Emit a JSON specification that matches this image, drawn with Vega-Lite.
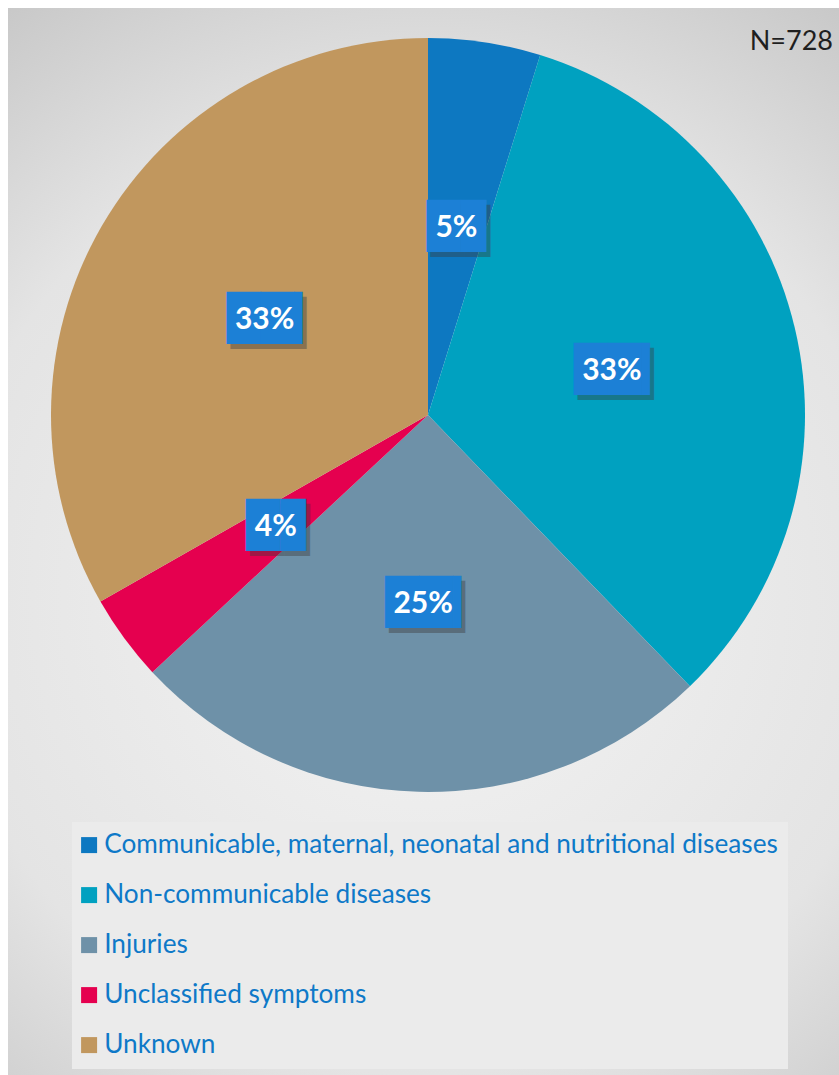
{
  "$schema": "https://vega.github.io/schema/vega-lite/v6.json",
  "width": 831,
  "height": 1067,
  "autosize": {"type": "none"},
  "padding": {"left": 8, "top": 8, "right": 0, "bottom": 0},
  "background": "#ffffff",
  "view": {
    "stroke": null,
    "fill": {
      "gradient": "radial",
      "x1": 0.5, "y1": 0.55, "r1": 0,
      "x2": 0.5, "y2": 0.55, "r2": 0.75,
      "stops": [
        {"offset": 0, "color": "#f4f4f4"},
        {"offset": 0.6, "color": "#e4e4e4"},
        {"offset": 1, "color": "#bfbfbf"}
      ]
    }
  },
  "title": {
    "text": "N=728",
    "anchor": "end",
    "orient": "top",
    "frame": "group",
    "font": "Lato",
    "fontSize": 27,
    "fontWeight": "normal",
    "color": "#1f1f1f",
    "offset": 0,
    "baseline": "alphabetic",
    "dy": 69,
    "dx": -6
  },
  "data": {
    "values": [
      {"cause": "Communicable, maternal, neonatal and nutritional diseases", "rank": 1, "count": 35, "label": "5%"},
      {"cause": "Non-communicable diseases", "rank": 2, "count": 240, "label": "33%"},
      {"cause": "Injuries", "rank": 3, "count": 184, "label": "25%"},
      {"cause": "Unclassified symptoms", "rank": 4, "count": 27, "label": "4%"},
      {"cause": "Unknown", "rank": 5, "count": 242, "label": "33%"}
    ]
  },
  "encoding": {
    "theta": {"field": "count", "type": "quantitative", "stack": true},
    "order": {"field": "rank", "type": "quantitative"},
    "detail": {"field": "cause", "type": "nominal"}
  },
  "layer": [
    {
      "mark": {"type": "arc", "x": 420, "y": 407, "outerRadius": 377, "strokeWidth": 0},
      "encoding": {
        "color": {
          "field": "cause",
          "type": "nominal",
          "scale": {
            "domain": [
              "Communicable, maternal, neonatal and nutritional diseases",
              "Non-communicable diseases",
              "Injuries",
              "Unclassified symptoms",
              "Unknown"
            ],
            "range": ["#0d78c1", "#00a1c0", "#6e91a8", "#e5004f", "#c1975e"]
          },
          "legend": {
            "orient": "none",
            "legendX": 64,
            "legendY": 814,
            "title": null,
            "direction": "vertical",
            "symbolType": "square",
            "symbolSize": 256,
            "symbolStrokeWidth": 0,
            "symbolOffset": -6,
            "labelFont": "Lato",
            "labelFontSize": 26.2,
            "labelColor": "#0e79c8",
            "labelLimit": 1000,
            "labelOffset": 2,
            "rowPadding": 23,
            "padding": 10,
            "fillColor": "#ebebeb"
          }
        }
      }
    },
    {
      "mark": {"type": "text", "x": 424, "y": 412, "dx": 4.4, "radius": 189, "font": "DejaVu Sans", "fontSize": 44, "baseline": "middle", "align": "center", "color": "#3a3a3a", "opacity": 0.4},
      "encoding": {
        "text": {"condition": {"test": "length(datum.label) == 2", "value": "█▊"}, "value": ""}
      }
    },
    {
      "mark": {"type": "text", "x": 424, "y": 412, "dx": 13.1, "radius": 189, "font": "DejaVu Sans", "fontSize": 44, "baseline": "middle", "align": "center", "color": "#3a3a3a", "opacity": 0.4},
      "encoding": {
        "text": {"condition": {"test": "length(datum.label) == 3", "value": "██▎"}, "value": ""}
      }
    },
    {
      "mark": {"type": "text", "x": 420, "y": 407, "dx": 4.4, "radius": 189, "font": "DejaVu Sans", "fontSize": 44, "baseline": "middle", "align": "center", "color": "#1c80d6"},
      "encoding": {
        "text": {"condition": {"test": "length(datum.label) == 2", "value": "█▊"}, "value": ""}
      }
    },
    {
      "mark": {"type": "text", "x": 420, "y": 407, "dx": 13.1, "radius": 189, "font": "DejaVu Sans", "fontSize": 44, "baseline": "middle", "align": "center", "color": "#1c80d6"},
      "encoding": {
        "text": {"condition": {"test": "length(datum.label) == 3", "value": "██▎"}, "value": ""}
      }
    },
    {
      "mark": {"type": "text", "x": 420, "y": 407, "radius": 189, "font": "Lato", "fontWeight": "bold", "fontSize": 30, "baseline": "middle", "align": "center", "color": "#ffffff"},
      "encoding": {
        "text": {"field": "label", "type": "nominal"}
      }
    }
  ]
}
